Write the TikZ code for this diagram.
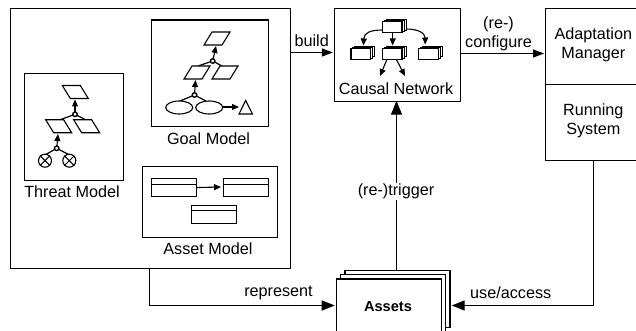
\documentclass[tikz,border=0pt]{standalone}
\usepackage{fontspec}
\setmainfont{Liberation Sans}
\usetikzlibrary{arrows.meta,calc}
\tikzset{
  box/.style={draw=black,line width=1.2pt,fill=white,inner sep=0pt},
  lab/.style={inner sep=0pt,font=\fontsize{16.2}{19}\selectfont,align=center},
  arr/.style={line width=1.2pt,-{Triangle[length=13pt,width=10pt]}},
  arrs/.style={line width=1.2pt,-{Triangle[length=11pt,width=8pt]}},
  sarr/.style={line width=1.1pt,-{Triangle[length=7pt,width=6pt]}},
  line/.style={line width=1.2pt},
  thin box/.style={draw=black,line width=1.1pt,fill=white},
  gor/.style={circle,draw=black,line width=1.4pt,fill=white,minimum size=4.5pt,inner sep=0pt},
  cb/.style={draw=black,line width=1.1pt,fill=white},
  cs/.style={draw=black,line width=.7pt,fill=white},
  crossn/.style={circle,draw=black,line width=1.1pt,fill=white,minimum size=13pt,inner sep=0pt},
}
\newcommand{\para}[4]{% name, cx, cy, skew
  \coordinate (#1) at (#2,#3);
  \draw[thin box] ({#2-9-#4},{#3+6.5}) -- ({#2+9-#4},{#3+6.5}) -- ({#2+9+#4},{#3-6.5}) -- ({#2-9+#4},{#3-6.5}) -- cycle;
}
\newcommand{\cube}[3]{% name, left, top
  \draw[cs] ({#2+3.5},{#3-2}) rectangle ({#2+23.7},{#3+8.5});
  \draw[cs] ({#2+1.7},{#3-1}) rectangle ({#2+21.7},{#3+9.7});
  \draw[cb] (#2,#3) rectangle ({#2+19.5},{#3+11});
  \coordinate (#1) at ({#2+9.75},{#3+5.5});
}
\begin{document}
\begin{tikzpicture}[x=1pt,y=-1pt]
\useasboundingbox (0,0) rectangle (636,331);
% big boxes
\node[box,anchor=north west,minimum width=279.5pt,minimum height=260pt] (outer) at (10,8) {};
\node[box,anchor=north west,minimum width=116.5pt,minimum height=106.5pt] (goal) at (151,19.5) {};
\node[box,anchor=north west,minimum width=98.5pt,minimum height=107pt] (threat) at (24,73) {};
\node[box,anchor=north west,minimum width=134.5pt,minimum height=70.5pt] (asset) at (142,166) {};
\node[lab] (goallab) at (208.5,139) {Goal Model};
\node[lab] (threatlab) at (72,192) {Threat Model};
\node[lab] (assetlab) at (208,249) {Asset Model};
% goal content
\draw[line] (198,66) -- (212.7,61) -- (222,66);
\draw[line] (180,101) -- (194.5,95) -- (206,101);
\draw[sarr] (212.7,61) -- (216,46);
\draw[sarr] (194.5,95) -- (195.5,80);
\para{g1}{217}{38.5}{4}
\para{g2}{197}{72.5}{4}
\para{g3}{225}{72.5}{4}
\node[gor] (gor1) at (212.7,61) {};
\node[gor] (gor2) at (194.5,95) {};
\draw[thin box] (179.2,107.5) ellipse (13.5 and 6.5);
\draw[thin box] (209.2,107.5) ellipse (13.5 and 6.5);
\coordinate (ell) at (222.7,107);
\coordinate (tri) at (239,107);
\draw[sarr] (ell) -- (tri);
\draw[thin box] (239,114) -- (252.5,114) -- (245.7,100.5) -- cycle;
% threat content
\draw[line] (59.5,120) -- (75,114.3) -- (86,120);
\draw[line] (45,155) -- (56.7,148.3) -- (69.5,155);
\draw[sarr] (75,114.3) -- (75,99.5);
\draw[sarr] (56.7,148.3) -- (58,134);
\para{t1}{75.3}{92}{-4}
\para{t2}{58.7}{126.3}{-4}
\para{t3}{86.7}{126.3}{-4}
\node[gor] (tor1) at (75,114.3) {};
\node[gor] (tor2) at (56.7,148.3) {};
\node[crossn] (x1) at (45,160.7) {};
\node[crossn] (x2) at (69.3,160.7) {};
\draw[line width=1pt] (x1.north west)--(x1.south east) (x1.north east)--(x1.south west);
\draw[line width=1pt] (x2.north west)--(x2.south east) (x2.north east)--(x2.south west);
% asset content
\node[thin box,anchor=north west,minimum width=45pt,minimum height=18pt,inner sep=0pt] (a1) at (151,178) {};
\node[thin box,anchor=north west,minimum width=45pt,minimum height=18pt,inner sep=0pt] (a2) at (223,178) {};
\node[thin box,anchor=north west,minimum width=45pt,minimum height=18.5pt,inner sep=0pt] (a3) at (191,204.5) {};
\draw[line width=1.1pt] (151,184.5) -- (196,184.5) (223,184.5) -- (268,184.5) (191,210.5) -- (236,210.5);
\draw[sarr] (a1.east) -- (221,187);
% causal
\node[box,anchor=north west,minimum width=126pt,minimum height=93pt] (causal) at (333.5,8) {};
\node[lab] (causallab) at (396,89) {Causal Network};
\cube{c1}{382.5}{21.7}
\cube{c2}{351}{48.3}
\cube{c3}{382.5}{48.3}
\cube{c4}{418.7}{48.3}
\draw[sarr] (382.5,30) .. controls (370,30) and (364,33) .. (363.5,45.5);
\draw[sarr] (392.7,32.7) -- (392.7,45.5);
\draw[sarr] (406,29) .. controls (418,29) and (425,33) .. (425.3,44.5);
\draw[sarr] (386.7,60) -- (380,76);
\draw[sarr] (396.7,60) -- (405,76);
% right
\node[box,anchor=north west,minimum width=100pt,minimum height=76pt] (am) at (545,8) {};
\node[box,anchor=north west,minimum width=100pt,minimum height=76pt] (rs) at (545,84) {};
\node[lab] (amlab) at (593.3,44.5) {Adaptation\\Manager};
\node[lab] (rslab) at (593.3,121.3) {Running\\System};
% assets
\node[box,anchor=north west,minimum width=105pt,minimum height=57.3pt] (p3) at (344.3,269.7) {};
\node[box,anchor=north west,minimum width=105pt,minimum height=56.5pt] (p2) at (340,274) {};
\node[box,anchor=north west,minimum width=105.3pt,minimum height=70pt] (p1) at (335.7,278.4) {};
\node[inner sep=0pt,font=\fontsize{14.6}{17}\selectfont\bfseries] (assetslab) at (388,306.7) {Assets};
% connectors
\coordinate (buildend) at (causal.west |- 0,52.5);
\draw[arrs] (outer.east |- buildend) -- ([xshift=-.6pt]buildend);
\node[lab] (build) at (311.7,40.5) {build};
\draw[arrs] (causal.east |- 0,53.5) -- ([xshift=-1pt]am.west |- 0,53.5);
\node[lab] (conf) at (498.5,34) {(re-)\\configure};
\draw[arr,-{Triangle[length=14pt,width=11pt]}] (p3.north -| 396.5,0) -- ([yshift=1.5pt]causal.south -| 396.5,0);
\node[lab,fill=white,inner sep=1pt] (trig) at (396,191.7) {(re-)trigger};
\coordinate (repc) at (149.5,305.5);
\draw[line] (outer.south -| repc) -- (repc);
\draw[arr] (repc) -- ([xshift=-1pt]p1.west |- repc);
\node[lab] (rep) at (278.5,292.7) {represent};
\coordinate (usec) at (593.5,305.5);
\draw[line] (rs.south -| usec) -- (usec);
\coordinate (useend) at (451.7,305.5);
\draw[arr] (usec) -- (useend);
\node[lab] (use) at (510.7,292.7) {use/access};
\end{tikzpicture}
\end{document}
